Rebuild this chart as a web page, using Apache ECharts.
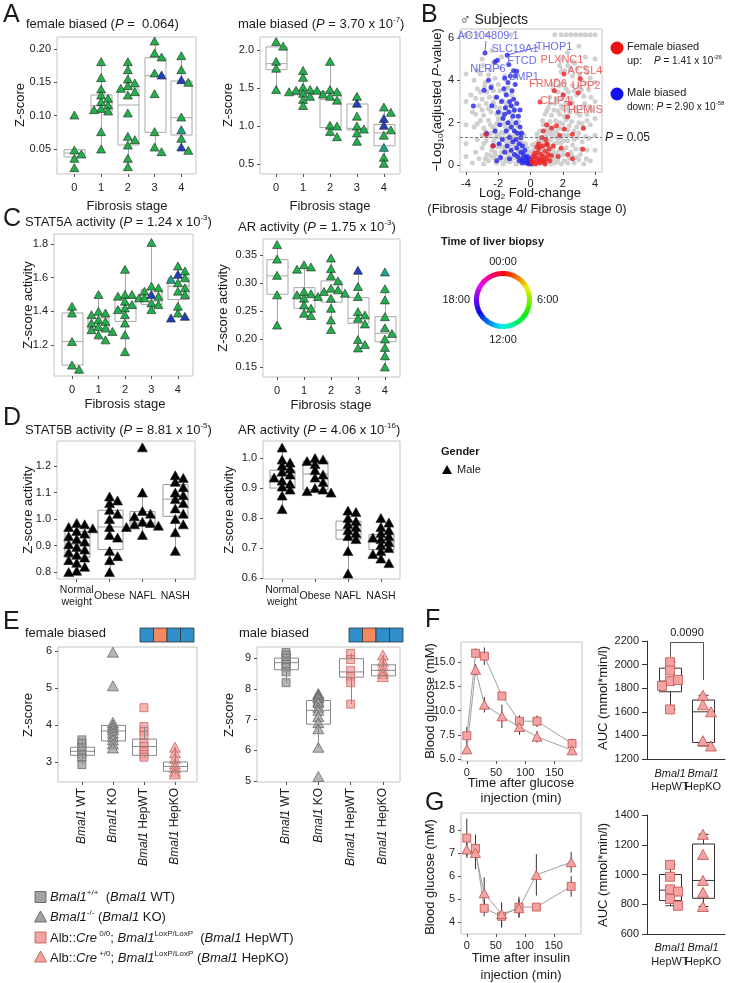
<!DOCTYPE html>
<html><head><meta charset="utf-8">
<script src="https://cdn.jsdelivr.net/npm/echarts@6/dist/echarts.min.js"></script>
<style>html,body{margin:0;padding:0;background:#fff}#c{width:729px;height:983px}</style>
</head><body><div id="c"></div>
<script>
// ================= DATA =================
// Panel A
const fibrosisStages = ['0','1','2','3','4'];
const aFemaleVals = [
 [0.101,0.0485,0.0425,0.036,0.022],
 [0.181,0.157,0.140,0.131,0.126,0.121,0.116,0.111,0.109,0.107,0.076,0.050],
 [0.181,0.169,0.155,0.149,0.145,0.141,0.136,0.131,0.104,0.069,0.064,0.056,0.036,0.0235],
 [0.212,0.194,0.188,0.164,0.161,0.133,0.076,0.053,0.046],
 [0.190,0.169,0.154,0.150,0.098,0.079,0.066,0.053,0.048]
];
const aFemaleBlue = [[3,0.161],[4,0.154],[4,0.053]];
const aFemaleTeal = [[4,0.079]];
const aFemaleBox = [[0.036,0.038,0.044,0.049,0.049],[0.050,0.105,0.115,0.131,0.181],[0.0235,0.056,0.116,0.140,0.181],[0.046,0.075,0.160,0.187,0.212],[0.048,0.071,0.097,0.152,0.190]];
const aMaleVals = [
 [2.11,2.05,1.85,1.76,1.48],
 [1.73,1.64,1.51,1.48,1.47,1.47,1.45,1.43,1.39,1.35,1.27],
 [1.85,1.48,1.45,1.42,1.39,1.34,1.01,1.00,0.93,0.86],
 [1.39,1.30,1.13,1.00,0.96,0.91,0.80],
 [1.25,1.18,1.10,1.01,0.95,0.88,0.72,0.59,0.51]
];
const aMaleBlue = [[3,1.30],[4,1.10],[4,1.01]];
const aMaleTeal = [[4,0.72]];
const aMaleBox = [[1.48,1.74,1.82,2.04,2.11],[1.27,1.41,1.44,1.47,1.73],[0.86,0.98,1.35,1.45,1.85],[0.80,0.95,0.97,1.29,1.39],[0.51,0.74,0.91,1.02,1.25]];

// Panel B volcano (log2 fold-change, -log10 adjusted P)
const volcanoGray = [
 [-3.6,0.1],[-3.2,0.3],[-2.9,0.05],[-2.6,0.2],[-2.3,0.35],[-2.1,0.1],[-1.9,0.25],[-1.7,0.05],[-1.5,0.3],[-1.3,0.15],[-1.1,0.38],[-0.9,0.05],[-0.7,0.2],[-0.5,0.32],[-0.3,0.1],[-0.1,0.25],[0.1,0.05],[0.3,0.3],[0.5,0.12],[0.7,0.35],[0.9,0.05],[1.1,0.22],[1.3,0.36],[1.5,0.1],[1.7,0.28],[1.9,0.05],[2.1,0.2],[2.4,0.33],[2.7,0.1],[3.0,0.25],[3.3,0.05],[3.7,0.2],
 [-3.4,0.6],[-3.0,0.8],[-2.7,0.5],[-2.4,0.7],[-2.2,0.45],[-2.0,0.85],[-1.8,0.6],[-1.6,0.75],[-1.4,0.5],[-1.2,0.65],[-1.0,0.85],[-0.8,0.55],[-0.6,0.7],[-0.4,0.45],[-0.2,0.8],[0.0,0.6],[0.2,0.5],[0.4,0.75],[0.6,0.55],[0.8,0.85],[1.0,0.62],[1.2,0.45],[1.4,0.8],[1.6,0.55],[1.8,0.7],[2.0,0.48],[2.2,0.82],[2.5,0.6],[2.8,0.75],[3.1,0.5],[3.5,0.7],
 [-3.3,1.2],[-2.9,1.0],[-2.6,1.35],[-2.3,1.1],[-2.1,1.45],[-1.9,0.95],[-1.7,1.25],[-1.5,1.05],[-1.3,1.4],[-1.1,1.15],[-0.9,0.95],[-0.7,1.3],[-0.5,1.05],[-0.3,1.0],[0.3,1.0],[0.5,1.2],[0.7,0.95],[0.9,1.35],[1.1,1.1],[1.3,1.45],[1.5,1.0],[1.7,1.25],[1.9,1.05],[2.1,1.4],[2.3,1.15],[2.6,0.95],[2.9,1.3],[3.2,1.1],[3.6,1.25],
 [-3.5,1.8],[-3.1,2.1],[-2.8,1.6],[-2.5,1.9],[-2.2,1.7],[-2.0,2.15],[-1.8,1.55],[-1.6,1.95],[-1.4,1.7],[-1.2,2.1],[-1.0,1.6],[-0.8,1.85],[-0.6,1.55],[0.6,1.6],[0.8,1.9],[1.0,1.65],[1.2,2.05],[1.4,1.75],[1.6,1.55],[1.8,2.0],[2.0,1.7],[2.2,2.15],[2.4,1.85],[2.7,1.6],[3.0,2.0],[3.3,1.75],[3.7,1.9],
 [-3.6,2.5],[-3.2,2.8],[-2.9,2.35],[-2.6,2.65],[-2.3,2.95],[-2.1,2.4],[-1.9,2.7],[-1.7,2.3],[-1.5,2.9],[-1.3,2.5],[-1.1,2.75],[-0.9,2.3],[0.9,2.4],[1.1,2.7],[1.3,2.35],[1.5,2.9],[1.7,2.55],[1.9,2.8],[2.1,2.3],[2.3,2.65],[2.6,2.95],[2.9,2.45],[3.2,2.75],[3.5,2.4],[3.8,2.6],
 [-3.7,3.3],[-3.3,3.6],[-3.0,3.1],[-2.7,3.45],[-2.4,3.75],[-2.2,3.2],[-1.9,3.5],[-1.7,3.05],[-1.4,3.65],[-1.2,3.3],[1.2,3.2],[1.4,3.55],[1.6,3.1],[1.8,3.75],[2.0,3.35],[2.2,3.6],[2.5,3.15],[2.7,3.5],[3.0,3.7],[3.3,3.25],[3.6,3.55],
 [-3.5,4.0],[-3.1,4.3],[-2.8,3.9],[-2.5,4.5],[-2.2,4.1],[-1.9,4.6],[-1.6,4.2],[1.6,4.0],[1.9,4.4],[2.1,3.9],[2.3,4.7],[2.6,4.2],[2.9,4.55],[3.2,4.0],[3.5,4.35],
 [-3.0,5.0],[-2.4,5.4],[-1.8,5.1],[1.9,5.0],[2.3,5.3],[2.6,4.9],[3.0,5.6],[3.4,5.1],
 [-4.0,6.15],[-3.7,6.15],[-3.3,6.15],[-2.7,6.15],[-1.2,6.15],[1.5,6.15],[1.9,6.15],[2.2,6.15],[2.5,6.15],[2.8,6.15],[3.1,6.15],[3.4,6.15],[3.7,6.15],[4.0,6.15],
 [-4,4.3],[-4,3.0],[-4,1.9],[-4,1.0],[-4,0.4],[4,5.0],[4,3.9],[4,3.0],[4,2.2],[4,1.4],[4,0.7],
 [-1.2,0.2],[-1.0,0.5],[-0.8,0.3],[-0.6,0.1],[-0.4,0.6],[-0.2,0.4],[0.0,0.15],[0.2,0.7],[0.4,0.25],[0.6,0.9],[0.8,0.4],[1.0,0.15],[1.2,0.75],[1.4,0.3],[-1.4,0.9],[-0.9,1.2],[-0.5,0.9],[0.1,0.95],[0.45,1.3],[1.15,1.6],[-1.15,1.75],[-0.7,1.0],[0.75,1.15],
 [-2.8,0.3],[-2.5,0.45],[-2.2,0.6],[-1.95,0.4],[-1.75,0.85],[-1.55,0.2],[-1.35,0.6],[-1.15,0.95],[-0.95,0.35],[-0.75,0.7],[-0.55,0.15],[-0.35,0.9],[-0.15,0.6],[0.05,0.4],[0.25,0.85],[0.45,0.05],[0.65,0.7],[0.85,0.25],[1.05,0.45],[1.25,0.05],[1.45,0.6],[1.65,0.15],[1.85,0.45],[2.05,0.7],[2.3,0.1],[2.55,0.45],[2.85,0.35],[3.15,0.75],[3.45,0.3],
 [-3.0,1.4],[-2.75,1.15],[-2.45,1.5],[-2.2,1.25],[-1.95,1.35],[-1.65,1.5],[-1.45,1.25],[-1.25,1.05],[-1.05,1.35],[-0.85,1.5],[-0.6,1.2],[-0.4,1.4],[0.4,1.45],[0.6,1.05],[0.85,1.25],[1.05,1.45],[1.25,1.2],[1.45,1.35],[1.65,1.05],[1.85,1.3],[2.05,1.15],[2.35,1.4],[2.7,1.2],[3.0,1.5],[3.4,1.35],
 [-3.3,1.95],[-2.9,1.75],[-2.6,2.1],[-2.35,1.8],[-2.1,1.95],[-1.85,2.2],[-1.55,1.8],[-1.3,2.0],[-1.05,1.9],[-0.75,2.05],[0.75,2.1],[1.05,1.85],[1.3,1.6],[1.55,2.1],[1.75,1.75],[2.0,1.95],[2.3,1.65],[2.55,2.05],[2.85,1.8],[3.2,1.95],[3.5,2.1],
 [-3.4,2.4],[-3.0,2.6],[-2.75,2.9],[-2.45,2.5],[-2.2,2.75],[-1.85,2.45],[-1.6,2.65],[-1.35,2.85],[-1.05,2.5],[1.0,2.55],[1.2,2.9],[1.45,2.6],[1.8,2.4],[2.0,2.65],[2.2,2.9],[2.45,2.5],[2.75,2.7],[3.05,2.35],[3.35,2.9],[3.65,2.75],
 [-3.4,3.15],[-3.1,3.45],[-2.85,3.7],[-2.55,3.2],[-2.3,3.5],[-2.0,3.8],[-1.55,3.4],[1.35,3.8],[1.7,3.45],[1.95,3.15],[2.35,3.45],[2.6,3.75],[2.85,3.3],[3.15,3.55],[3.45,3.85],[3.75,3.2],
 [-3.3,4.45],[-2.95,4.7],[-2.6,4.25],[-2.3,4.8],[1.8,4.7],[2.1,4.45],[2.45,4.5],[2.75,4.8],[3.05,4.3],[3.4,4.6],[3.7,4.1]
];
const volcanoBlue = [
 [-2.82,5.29],[-2.2,4.87],[-2.05,4.95],[-1.44,5.18],[-0.86,4.43],[-1.35,4.75],
 [-3.54,2.78],[-2.88,3.53],[-2.45,3.66],[-2.72,1.49],[-2.3,0.91],[-2.6,4.0],[-2.1,3.2],[-2.0,2.5],[-1.9,1.9],[-1.8,3.0],[-1.75,1.2],[-1.7,2.2],[-1.65,3.6],[-1.6,4.1],[-1.55,2.7],[-1.5,1.6],[-1.5,3.3],[-1.45,0.9],[-1.4,2.0],[-1.4,3.9],[-1.35,2.5],[-1.3,1.3],[-1.3,3.0],[-1.25,4.2],[-1.2,0.7],[-1.2,1.8],[-1.2,2.8],[-1.15,3.5],[-1.1,2.3],[-1.1,1.1],[-1.05,3.1],[-1.0,0.5],[-1.0,1.6],[-1.0,2.6],[-0.95,3.8],[-0.9,2.0],[-0.9,1.2],[-0.85,0.8],[-0.85,2.9],[-0.8,1.5],[-0.8,0.4],[-0.75,2.3],[-0.7,1.0],[-0.7,0.2],[-0.65,1.8],[-0.6,0.6],[-0.6,1.3],[-0.55,0.3],[-0.5,0.9],[-0.5,0.1],[-0.45,0.5],[-0.4,0.2],[-0.35,0.7],[-0.3,0.35],[-0.25,0.1],[-0.2,0.4],[-0.15,0.2],[-0.1,0.05],[-0.05,0.3],[0.0,0.15],[0.05,0.05],[-1.6,0.6],[-1.85,0.35],[-2.1,0.2],[-0.95,4.2],[-1.05,4.45],[-0.65,2.6],[-0.55,1.5],[-1.3,0.3],[-1.6,2.4],[-2.4,2.8],[-2.2,1.6],[-1.95,1.0]
];
const volcanoRed = [
 [2.07,4.29],[3.07,4.08],[2.96,3.41],[1.48,3.5],[0.59,2.98],[2.3,2.28],[2.03,3.3],[2.45,2.9],[3.27,1.73],[3.24,0.74],
 [1.0,1.9],[1.3,1.75],[1.6,1.85],[0.8,1.6],[1.8,1.4],[2.1,1.7],[2.6,1.45],[1.0,1.0],[1.4,0.9],[1.9,0.8],[2.3,0.5],[2.6,0.3],[1.7,0.4],[-2.76,1.44],[-2.35,0.9],
 [0.1,0.1],[0.2,0.25],[0.3,0.05],[0.35,0.4],[0.4,0.15],[0.45,0.6],[0.5,0.3],[0.55,0.8],[0.6,0.1],[0.65,0.5],[0.7,0.25],[0.75,0.9],[0.8,0.4],[0.85,0.15],[0.9,0.65],[0.95,1.2],[1.0,0.3],[1.1,0.5],[1.15,0.75],[1.2,0.2],[0.25,0.55],[0.15,0.4],[0.05,0.2],[0.5,1.0],[0.7,1.3],[0.4,0.85],[1.3,0.45],[0.6,0.2],[0.9,0.05],[1.05,0.95]
];
const volcanoThresholdP = 0.05;

// Panel C
const cStat5aVals = [
 [1.43,1.39,1.22,1.08,1.055],
 [1.50,1.40,1.39,1.38,1.35,1.34,1.33,1.31,1.30,1.29,1.28,1.26,1.23],
 [1.65,1.50,1.50,1.49,1.48,1.46,1.44,1.42,1.41,1.38,1.33,1.26,1.16],
 [1.81,1.55,1.54,1.52,1.50,1.49,1.48,1.45,1.44,1.41],
 [1.67,1.64,1.62,1.60,1.59,1.57,1.54,1.52,1.50,1.43,1.39,1.37,1.36]
];
const cStat5aBlue = [[3,1.50],[4,1.62],[4,1.37],[4,1.36]];
const cStat5aTeal = [[4,1.59]];
const cStat5aBox = [[1.055,1.08,1.22,1.39,1.43],[1.23,1.29,1.30,1.36,1.50],[1.16,1.34,1.42,1.48,1.65],[1.41,1.44,1.46,1.53,1.81],[1.36,1.47,1.55,1.60,1.67]];
const cArVals = [
 [0.369,0.343,0.314,0.279,0.225],
 [0.333,0.329,0.325,0.285,0.281,0.279,0.276,0.273,0.261,0.255,0.246,0.242],
 [0.345,0.326,0.313,0.304,0.291,0.288,0.285,0.282,0.273,0.255,0.234,0.217],
 [0.323,0.294,0.276,0.249,0.243,0.237,0.227,0.199,0.190,0.184],
 [0.32,0.29,0.27,0.24,0.22,0.21,0.20,0.185,0.17,0.15]
];
const cArBlue = [[3,0.323]];
const cArTeal = [[4,0.32]];
const cArBox = [[0.225,0.28,0.313,0.342,0.369],[0.242,0.255,0.275,0.292,0.333],[0.217,0.266,0.285,0.304,0.345],[0.184,0.228,0.237,0.274,0.323],[0.15,0.195,0.21,0.24,0.29]];

// Panel D
const dGroups = ['Normal\nweight','Obese','NAFL','NASH'];
const dStat5bVals = [
 [0.985,0.98,0.97,0.965,0.955,0.945,0.935,0.925,0.915,0.905,0.895,0.885,0.875,0.865,0.855,0.845,0.835,0.82,0.805,0.80],
 [1.085,1.07,1.06,1.035,1.02,1.0,0.97,0.94,0.93,0.88,0.86,0.845,0.80],
 [1.27,1.10,1.03,1.02,1.01,0.99,0.985,0.98,0.975,0.97,0.94],
 [1.165,1.155,1.14,1.12,1.10,1.09,1.075,1.06,1.04,1.02,1.00,0.98,0.95,0.88]
];
const dStat5bBox = [[0.80,0.856,0.905,0.953,0.985],[0.80,0.885,0.97,1.033,1.085],[0.94,0.975,0.985,1.028,1.10],[0.88,1.01,1.075,1.13,1.165]];
const dArVals = [
 [1.035,0.995,0.985,0.975,0.965,0.955,0.945,0.935,0.925,0.915,0.905,0.895,0.875,0.83],
 [1.0,0.995,0.99,0.98,0.96,0.945,0.935,0.92,0.90,0.895,0.89,0.885],
 [0.825,0.82,0.80,0.79,0.78,0.77,0.76,0.75,0.74,0.73,0.69,0.615],
 [0.80,0.785,0.77,0.76,0.75,0.74,0.735,0.73,0.72,0.71,0.70,0.69,0.68,0.665,0.65]
];
const dArBox = [[0.83,0.90,0.94,0.96,1.035],[0.885,0.895,0.947,0.99,1.0],[0.615,0.73,0.76,0.79,0.825],[0.65,0.695,0.72,0.745,0.80]];

// Panel E
const eGroups = ['WT','KO','HepWT','HepKO'];
const eFemaleVals = [
 [3.60,3.51,3.38,3.29,3.20,3.11,2.93],
 [5.97,5.06,4.07,4.00,3.93,3.87,3.78,3.69,3.60,3.49,3.38],
 [4.47,3.96,3.83,3.72,3.51,3.42,3.29,3.20,3.13],
 [3.40,3.25,3.10,2.95,2.85,2.75,2.68]
];
const eFemaleBox = [[2.93,3.18,3.29,3.40,3.60],[3.35,3.57,3.84,3.99,4.07],[3.13,3.18,3.42,3.62,3.96],[2.68,2.75,2.88,3.00,3.40]];
const eMaleVals = [
 [9.18,9.10,9.00,8.90,8.80,8.70,8.55,8.20],
 [7.85,7.80,7.75,7.70,7.60,7.55,7.40,7.30,7.10,6.90,6.70,6.10,5.15],
 [9.15,8.95,8.60,8.40,8.20,7.50],
 [9.10,8.90,8.75,8.60,8.50,8.40]
];
const eMaleBox = [[8.20,8.62,8.85,9.00,9.18],[6.10,6.85,7.30,7.62,7.85],[7.50,8.38,8.55,8.98,9.15],[8.40,8.42,8.60,8.78,9.10]];

// Panels F, G
const timesMin = [0,15,30,60,90,120,180];
const gttHepWT = [7.4,15.9,15.6,11.5,8.9,8.9,6.6];
const gttHepWTErr = [0.9,0.5,0.9,0.2,0.6,0.6,0.5];
const gttHepKO = [6.0,14.2,10.6,9.4,8.3,7.3,5.9];
const gttHepKOErr = [0.5,0.6,0.8,1.2,0.8,0.6,0.4];
const gttAucWT = [2020,1950,1860,1870,1820,1620];
const gttAucKO = [1740,1660,1600,1355,1310];
const gttAucBox = [[1620,1770,1860,1970,2020],[1310,1340,1600,1700,1740]];
const gttPValue = '0.0090';
const ittHepWT = [7.65,7.2,4.6,4.25,4.65,4.65,5.55];
const ittHepWTErr = [0.85,0.6,0.35,0.5,0.45,0.15,0.45];
const ittHepKO = [7.15,7.0,5.25,4.35,4.6,6.05,6.6];
const ittHepKOErr = [0.3,0.7,0.7,0.5,0.4,0.9,0.45];
const ittAucWT = [1065,985,900,885,835,790];
const ittAucKO = [1270,1135,960,880,785];
const ittAucBox = [[790,825,895,1000,1065],[785,840,960,1205,1270]];
const aucGroups = ['HepWT','HepKO'];

// ================= RENDERING =================
const FF = "'Liberation Sans', Arial, sans-serif";
const GREEN = '#21b04b', TEAL = '#17a58c', BLUE = '#1f3fbf';
const PINK = '#f4a3a3', PINKB = '#c0504d', GRAY = '#a3a3a3', GRAYB = '#555';
const grids = [], xAxes = [], yAxes = [], series = [], graphics = [];
const GR = {};

function merge(a, b) {
  const o = Object.assign({}, a);
  for (const k in (b || {})) {
    if (b[k] && typeof b[k] === 'object' && !Array.isArray(b[k]) && typeof a[k] === 'object') o[k] = Object.assign({}, a[k], b[k]);
    else o[k] = b[k];
  }
  return o;
}
function ticks(vals, fmt) {
  return { axisTick: { customValues: vals }, axisLabel: { customValues: vals, formatter: fmt } };
}
function addGrid(name, g, xr, yr, xo, yo) {
  const i = grids.length;
  GR[name] = { i, g, xr, yr, ppx: g.width / (xr[1] - xr[0]), ppy: g.height / (yr[1] - yr[0]) };
  grids.push({ left: g.left, top: g.top, width: g.width, height: g.height, show: g.frame !== false, borderColor: '#c4c4c4', borderWidth: 1, backgroundColor: 'rgba(0,0,0,0)' });
  const base = {
    gridIndex: i, type: 'value', splitLine: { show: false },
    axisLine: { show: g.frame === false, onZero: false, lineStyle: { color: '#333', width: 1 } },
    axisTick: { show: true, length: 3, lineStyle: { color: '#555' } },
    axisLabel: { fontSize: 11, color: '#222', fontFamily: FF, margin: 6, hideOverlap: false, showMinLabel: true, showMaxLabel: true }
  };
  xAxes.push(merge(merge(base, { min: xr[0], max: xr[1] }), xo));
  yAxes.push(merge(merge(base, { min: yr[0], max: yr[1] }), yo));
  return i;
}
function xPix(name, v) { const G0 = GR[name]; return G0.g.left + (v - G0.xr[0]) * G0.ppx; }
function strip(name, vals, special, o) {
  const g = GR[name];
  const slot = (o.slotPx || 7) / g.ppx, thr = (o.thrPx || 6) / g.ppy;
  const data = [];
  vals.forEach((arr, ci) => {
    const placed = [];
    arr.forEach(v => {
      const near = placed.filter(p => Math.abs(p.v - v) < thr).map(p => p.k);
      const seq = o.noJitter ? [0] : [0, 1, -1, 2, -2, 3, -3];
      let k = seq.find(s => !near.includes(s)); if (k === undefined) k = 0;
      placed.push({ v, k });
      const item = { value: [ci + k * slot, v] };
      (special || []).forEach(sp => { if (sp.pts.some(p => p[0] === ci && Math.abs(p[1] - v) < 1e-9)) item.itemStyle = { color: sp.color }; });
      data.push(item);
    });
  });
  series.push({ type: 'scatter', xAxisIndex: g.i, yAxisIndex: g.i, data, symbol: o.symbol || 'triangle', symbolSize: o.size || [9, 8], z: 3, silent: true,
    itemStyle: { color: o.color, borderColor: o.border || '#222', borderWidth: o.bw == null ? 0.6 : o.bw, opacity: 1 } });
}
function box(name, stats, o) {
  const g = GR[name];
  series.push({ type: 'custom', xAxisIndex: g.i, yAxisIndex: g.i, silent: true, z: o.z || 2,
    data: stats.map((s, i) => [i].concat(s)),
    renderItem: (params, api) => {
      const x = api.value(0);
      const P = [1, 2, 3, 4, 5].map(d => api.coord([x, api.value(d)]));
      const cx = Math.round(P[0][0]) + 0.5, w = o.w, hw = w / 2, c = o.color, lw = o.lw || 1;
      const st = { stroke: c, lineWidth: lw, fill: null };
      const ch = [
        { type: 'line', shape: { x1: cx, y1: P[4][1], x2: cx, y2: P[3][1] }, style: st },
        { type: 'line', shape: { x1: cx, y1: P[1][1], x2: cx, y2: P[0][1] }, style: st },
        { type: 'rect', shape: { x: cx - hw, y: P[3][1], width: w, height: P[1][1] - P[3][1] }, style: { stroke: c, lineWidth: lw, fill: 'rgba(0,0,0,0)' } },
        { type: 'line', shape: { x1: cx - hw, y1: P[2][1], x2: cx + hw, y2: P[2][1] }, style: st }
      ];
      if (o.cap) {
        const cw = o.cap / 2;
        ch.push({ type: 'line', shape: { x1: cx - cw, y1: P[0][1], x2: cx + cw, y2: P[0][1] }, style: st });
        ch.push({ type: 'line', shape: { x1: cx - cw, y1: P[4][1], x2: cx + cw, y2: P[4][1] }, style: st });
      }
      return { type: 'group', children: ch };
    } });
}
function errbars(name, xs, m, e) {
  const g = GR[name];
  series.push({ type: 'custom', xAxisIndex: g.i, yAxisIndex: g.i, silent: true, z: 2,
    data: xs.map((x, i) => [x, m[i] - e[i], m[i] + e[i]]),
    renderItem: (p, api) => {
      const a = api.coord([api.value(0), api.value(1)]), b = api.coord([api.value(0), api.value(2)]);
      return { type: 'line', shape: { x1: a[0], y1: a[1], x2: b[0], y2: b[1] }, style: { stroke: '#333', lineWidth: 1 } };
    } });
}
function curve(name, xs, m, sym, size) {
  const g = GR[name];
  series.push({ type: 'line', xAxisIndex: g.i, yAxisIndex: g.i, silent: true, z: 3, data: xs.map((x, i) => [x, m[i]]),
    symbol: sym, symbolSize: size, showSymbol: true, lineStyle: { color: '#a0a0a0', width: 1 },
    itemStyle: { color: PINK, borderColor: PINKB, borderWidth: 0.8 } });
}
function rich(fs) {
  return {
    i: { fontStyle: 'italic', fontSize: fs, fontFamily: FF },
    b: { fontWeight: 'bold', fontSize: fs, fontFamily: FF },
    sup: { fontSize: Math.round(fs * 0.62), fontFamily: FF, verticalAlign: 'top' },
    sub: { fontSize: Math.round(fs * 0.62), fontFamily: FF, verticalAlign: 'bottom' }
  };
}
function T(x, y, text, o) {
  o = o || {};
  const fs = o.fs || 13;
  graphics.push({ type: 'text', x, y, rotation: o.rot || 0, silent: true, z: 100,
    style: { text, fill: o.color || '#1a1a1a', fontSize: fs, fontFamily: FF, fontWeight: o.bold ? 'bold' : 'normal',
      align: o.align || 'left', textAlign: o.align || 'left', verticalAlign: 'middle', textVerticalAlign: 'middle',
      lineHeight: o.lh || Math.round(fs * 1.25), rich: rich(fs) } });
}
const fmt = d => v => v.toFixed(d);

// ---- Panel A ----
addGrid('A1', { left: 57, top: 37, width: 139, height: 137 }, [-0.65, 4.55], [0.0125, 0.218],
  merge(ticks([0, 1, 2, 3, 4], v => fibrosisStages[v]), { axisLabel: { margin: 8 } }), ticks([0.05, 0.10, 0.15, 0.20], fmt(2)));
addGrid('A2', { left: 260, top: 37, width: 140, height: 137 }, [-0.6, 4.6], [0.37, 2.17],
  merge(ticks([0, 1, 2, 3, 4], v => fibrosisStages[v]), { axisLabel: { margin: 8 } }), ticks([0.5, 1.0, 1.5, 2.0], fmt(1)));
box('A1', aFemaleBox, { w: 21, color: '#a8a8a8' });
box('A2', aMaleBox, { w: 21, color: '#a8a8a8' });
strip('A1', aFemaleVals, [{ pts: aFemaleBlue, color: BLUE }, { pts: aFemaleTeal, color: TEAL }], { color: GREEN });
strip('A2', aMaleVals, [{ pts: aMaleBlue, color: BLUE }, { pts: aMaleTeal, color: TEAL }], { color: GREEN });

// ---- Panel B ----
addGrid('B', { left: 460, top: 29, width: 142, height: 143 }, [-4.37, 4.43], [-0.33, 6.42],
  ticks([-4, -2, 0, 2, 4], v => String(v)), ticks([0, 2, 4, 6], v => String(v)));
const gB = GR.B.i;
series.push({ type: 'scatter', xAxisIndex: gB, yAxisIndex: gB, silent: true, z: 2, data: volcanoGray, symbolSize: 5,
  itemStyle: { color: '#cdcdcd', opacity: 0.95 },
  markLine: { silent: true, symbol: 'none', label: { show: false }, lineStyle: { color: '#777', type: [3, 2], width: 1 },
    data: [{ yAxis: -Math.log10(volcanoThresholdP) }] } });
series.push({ type: 'scatter', xAxisIndex: gB, yAxisIndex: gB, silent: true, z: 3, data: volcanoBlue, symbolSize: 5, itemStyle: { color: '#2323ee' } });
series.push({ type: 'scatter', xAxisIndex: gB, yAxisIndex: gB, silent: true, z: 3, data: volcanoRed, symbolSize: 5, itemStyle: { color: '#ee2222' } });

// ---- Panel C ----
addGrid('C1', { left: 54, top: 234, width: 139, height: 142 }, [-0.68, 4.57], [1.015, 1.86],
  merge(ticks([0, 1, 2, 3, 4], v => fibrosisStages[v]), { axisLabel: { margin: 8 } }), ticks([1.2, 1.4, 1.6, 1.8], fmt(1)));
addGrid('C2', { left: 263, top: 239, width: 137, height: 138 }, [-0.52, 4.56], [0.132, 0.379],
  merge(ticks([0, 1, 2, 3, 4], v => fibrosisStages[v]), { axisLabel: { margin: 8 } }), ticks([0.15, 0.20, 0.25, 0.30, 0.35], fmt(2)));
box('C1', cStat5aBox, { w: 21, color: '#a8a8a8' });
box('C2', cArBox, { w: 21, color: '#a8a8a8' });
strip('C1', cStat5aVals, [{ pts: cStat5aBlue, color: BLUE }, { pts: cStat5aTeal, color: TEAL }], { color: GREEN });
strip('C2', cArVals, [{ pts: cArBlue, color: BLUE }, { pts: cArTeal, color: TEAL }], { color: GREEN });

// ---- Panel D ----
const dX = { axisTick: { customValues: [0, 1, 2, 3] }, axisLabel: { show: false } };
addGrid('D1', { left: 57, top: 441, width: 138, height: 138 }, [-0.6, 3.6], [0.774, 1.294], dX, ticks([0.8, 0.9, 1.0, 1.1, 1.2], fmt(1)));
addGrid('D2', { left: 263, top: 441, width: 137, height: 138 }, [-0.58, 3.58], [0.597, 1.057], dX, ticks([0.6, 0.7, 0.8, 0.9, 1.0], fmt(1)));
box('D1', dStat5bBox, { w: 25, color: '#999' });
box('D2', dArBox, { w: 25, color: '#999' });
strip('D1', dStat5bVals, null, { color: '#000', size: [10, 9], slotPx: 8, thrPx: 6 });
strip('D2', dArVals, null, { color: '#000', size: [10, 9], slotPx: 8, thrPx: 6 });
['D1', 'D2'].forEach(n => dGroups.forEach((lab, i) => T(xPix(n, i), 596, lab, { fs: 10.5, align: 'center', lh: 12 })));

// ---- Panel E ----
const eX = { axisTick: { customValues: [0, 1, 2, 3] }, axisLabel: { customValues: [0, 1, 2, 3], rotate: 90, fontSize: 12, margin: 6,
  formatter: v => '{i|Bmal1} ' + eGroups[v], rich: { i: { fontStyle: 'italic', fontSize: 12, fontFamily: FF, color: '#222' } } } };
addGrid('E1', { left: 58, top: 647, width: 139, height: 135 }, [-0.77, 3.71], [2.46, 6.11], eX, ticks([3, 4, 5, 6], v => String(v)));
addGrid('E2', { left: 257, top: 647, width: 143, height: 135 }, [-0.9, 3.53], [4.97, 9.36], eX, ticks([5, 6, 7, 8, 9], v => String(v)));
function eStrips(name, vals) {
  const g = GR[name];
  const sty = [
    { symbol: 'rect', size: 8, color: GRAY, border: GRAYB },
    { symbol: 'triangle', size: [11, 10], color: GRAY, border: GRAYB },
    { symbol: 'rect', size: 8, color: PINK, border: PINKB },
    { symbol: 'triangle', size: [11, 10], color: PINK, border: PINKB }
  ];
  vals.forEach((arr, ci) => {
    const s = sty[ci];
    series.push({ type: 'scatter', xAxisIndex: g.i, yAxisIndex: g.i, silent: true, z: 3, symbol: s.symbol, symbolSize: s.size,
      data: arr.map(v => [ci, v]), itemStyle: { color: s.color, borderColor: s.border, borderWidth: 0.8 } });
  });
}
eStrips('E1', eFemaleVals);
eStrips('E2', eMaleVals);
box('E1', eFemaleBox, { w: 24, color: '#888', z: 4 });
box('E2', eMaleBox, { w: 24, color: '#888', z: 4 });

// ---- Panel F ----
addGrid('F1', { left: 461, top: 642, width: 121, height: 119 }, [-10, 197], [4.8, 17.06],
  ticks([0, 50, 100, 150], v => String(v)), ticks([5, 7.5, 10, 12.5, 15], fmt(1)));
errbars('F1', timesMin, gttHepWT, gttHepWTErr);
errbars('F1', timesMin, gttHepKO, gttHepKOErr);
curve('F1', timesMin, gttHepWT, 'rect', 8);
curve('F1', timesMin, gttHepKO, 'triangle', [10, 9]);
const aucX = { axisTick: { show: false }, axisLabel: { show: false } };
addGrid('F2', { left: 647, top: 641, width: 78, height: 118, frame: false }, [-0.7, 1.67], [1200, 2200], aucX,
  { axisTick: { length: 5, lineStyle: { color: '#333' } }, axisLabel: { margin: 8, formatter: v => String(v) }, interval: 200 });
box('F2', gttAucBox, { w: 22, color: '#333', cap: 10 });
strip('F2', [gttAucWT, []], null, { symbol: 'rect', size: 9, color: PINK, border: PINKB, bw: 0.8, slotPx: 8, thrPx: 8 });
strip('F2', [[], gttAucKO], null, { symbol: 'triangle', size: [11, 10], color: PINK, border: PINKB, bw: 0.8, slotPx: 8, thrPx: 8 });

// ---- Panel G ----
addGrid('G1', { left: 461, top: 813, width: 120, height: 121 }, [-10, 197], [3.48, 8.74],
  ticks([0, 50, 100, 150], v => String(v)), ticks([4, 5, 6, 7, 8], v => String(v)));
errbars('G1', timesMin, ittHepWT, ittHepWTErr);
errbars('G1', timesMin, ittHepKO, ittHepKOErr);
curve('G1', timesMin, ittHepWT, 'rect', 8);
curve('G1', timesMin, ittHepKO, 'triangle', [10, 9]);
addGrid('G2', { left: 647, top: 815, width: 78, height: 119, frame: false }, [-0.7, 1.67], [600, 1400], aucX,
  { axisTick: { length: 5, lineStyle: { color: '#333' } }, axisLabel: { margin: 8, formatter: v => String(v) }, interval: 200 });
box('G2', ittAucBox, { w: 22, color: '#333', cap: 10 });
strip('G2', [ittAucWT, []], null, { symbol: 'rect', size: 9, color: PINK, border: PINKB, bw: 0.8, slotPx: 8, thrPx: 8 });
strip('G2', [[], ittAucKO], null, { symbol: 'triangle', size: [11, 10], color: PINK, border: PINKB, bw: 0.8, slotPx: 8, thrPx: 8 });

// ================= TEXT / ANNOTATIONS =================
[['A', 3, 15], ['B', 421, 15], ['C', 3, 219], ['D', 3, 418], ['E', 3, 622], ['F', 425, 620], ['G', 425, 803]]
  .forEach(l => T(l[1], l[2], l[0], { fs: 25 }));
T(26, 24, 'female biased ({i|P} =  0.064)');
T(238, 24, 'male biased ({i|P} = 3.70 x 10{sup|-7})');
T(20, 105, 'Z-score', { rot: Math.PI / 2, align: 'center' });
T(228, 105, 'Z-score', { rot: Math.PI / 2, align: 'center' });
T(127, 206, 'Fibrosis stage', { align: 'center' });
T(330, 206, 'Fibrosis stage', { align: 'center' });

T(460, 20, '♂ Subjects', { fs: 14 });
T(437, 100, '\u2212Log{sub|10}(adjusted {i|P}-value)', { rot: Math.PI / 2, align: 'center' });
T(530, 193, 'Log{sub|2} Fold-change', { align: 'center' });
T(527, 209, '(Fibrosis stage 4/ Fibrosis stage 0)', { align: 'center' });
T(605, 138, '{i|P} = 0.05', { fs: 12 });
graphics.push({ type: 'circle', shape: { cx: 617, cy: 48, r: 6.5 }, style: { fill: '#ee1111' }, silent: true });
graphics.push({ type: 'circle', shape: { cx: 617, cy: 94, r: 6.5 }, style: { fill: '#1111ee' }, silent: true });
T(627, 47, 'Female biased', { fs: 11 });
T(627, 61, 'up:', { fs: 11 });
T(654, 61, '{i|P} = 1.41 x 10{sup|-26}', { fs: 10 });
T(627, 93, 'Male biased', { fs: 11 });
T(627, 107, 'down: {i|P} = 2.90 x 10{sup|-58}', { fs: 10 });
const VB = '#6a6af2', VR = '#f06464';
[['AC104809.1', 488, 36], ['SLC19A1', 515, 49], ['THOP1', 554, 47], ['FTCD', 522, 61], ['NLRP6', 488, 69], ['BMP1', 524, 77]]
  .forEach(l => T(l[1], l[2], l[0], { fs: 11, align: 'center', color: VB }));
[['PLXNC1', 562, 60], ['ACSL4', 585, 71], ['FRMD6', 548, 84], ['UPP2', 586, 86], ['CLIP4', 555, 101], ['THEMIS', 582, 110]]
  .forEach(l => T(l[1], l[2], l[0], { fs: 11, align: 'center', color: VR }));
graphics.push({ type: 'line', shape: { x1: 486, y1: 41, x2: 485, y2: 52 }, style: { stroke: VB, lineWidth: 1 }, silent: true });
graphics.push({ type: 'line', shape: { x1: 538, y1: 47, x2: 507, y2: 55 }, style: { stroke: VB, lineWidth: 1 }, silent: true });
graphics.push({ type: 'line', shape: { x1: 560, y1: 66, x2: 564, y2: 73 }, style: { stroke: VR, lineWidth: 1 }, silent: true });

T(25, 222, 'STAT5A activity ({i|P} = 1.24 x 10{sup|-3})');
T(238, 227, 'AR activity ({i|P} = 1.75 x 10{sup|-3})');
T(28, 305, 'Z-score activity', { rot: Math.PI / 2, align: 'center' });
T(223, 308, 'Z-score activity', { rot: Math.PI / 2, align: 'center' });
T(125, 404, 'Fibrosis stage', { align: 'center' });
T(331, 405, 'Fibrosis stage', { align: 'center' });

// time ring legend
T(441, 242, 'Time of liver biopsy', { fs: 11, bold: true });
const RCX = 503, RCY = 300;
for (let k = 0; k < 72; k++) {
  const a0 = -Math.PI / 2 + k * Math.PI * 2 / 72;
  graphics.push({ type: 'sector', silent: true, shape: { cx: RCX, cy: RCY, r: 29, r0: 24, startAngle: a0, endAngle: a0 + Math.PI * 2 / 72 + 0.02 },
    style: { fill: 'hsl(' + (k * 5) + ',95%,48%)' } });
}
T(RCX, 262, '00:00', { fs: 11, align: 'center' });
T(537, RCY, '6:00', { fs: 11 });
T(RCX, 340, '12:00', { fs: 11, align: 'center' });
T(470, RCY, '18:00', { fs: 11, align: 'right' });
T(441, 452, 'Gender', { fs: 11, bold: true });
graphics.push({ type: 'polygon', silent: true, shape: { points: [[447, 465], [452, 474], [442, 474]] }, style: { fill: '#000' } });
T(457, 470, 'Male', { fs: 11 });

T(25, 430, 'STAT5B activity ({i|P} = 8.81 x 10{sup|-5})');
T(238, 430, 'AR activity ({i|P} = 4.06 x 10{sup|-16})');
T(28, 510, 'Z-score activity', { rot: Math.PI / 2, align: 'center' });
T(229, 510, 'Z-score activity', { rot: Math.PI / 2, align: 'center' });

T(25, 633, 'female biased');
T(239, 633, 'male biased');
T(28, 715, 'Z-score', { rot: Math.PI / 2, align: 'center' });
T(229, 715, 'Z-score', { rot: Math.PI / 2, align: 'center' });
const eBar = ['#2f8fcb', '#f4895f', '#2f8fcb', '#2f8fcb'];
[140, 349].forEach(x0 => eBar.forEach((c, k) => graphics.push({ type: 'rect', silent: true,
  shape: { x: x0 + k * 13.5, y: 628, width: 13.5, height: 14 }, style: { fill: c, stroke: '#333', lineWidth: 0.8 } })));

// bottom legend
graphics.push({ type: 'rect', silent: true, shape: { x: 35, y: 891.5, width: 11, height: 11 }, style: { fill: GRAY, stroke: GRAYB, lineWidth: 0.8 } });
graphics.push({ type: 'polygon', silent: true, shape: { points: [[40.5, 911], [46.5, 922], [34.5, 922]] }, style: { fill: GRAY, stroke: GRAYB, lineWidth: 0.8 } });
graphics.push({ type: 'rect', silent: true, shape: { x: 35, y: 932, width: 11, height: 11 }, style: { fill: PINK, stroke: PINKB, lineWidth: 0.8 } });
graphics.push({ type: 'polygon', silent: true, shape: { points: [[40.5, 951], [46.5, 962], [34.5, 962]] }, style: { fill: PINK, stroke: PINKB, lineWidth: 0.8 } });
T(50, 897, '{i|Bmal1}{sup|+/+}  ({i|Bmal1} WT)');
T(50, 917, '{i|Bmal1}{sup|-/-} ({i|Bmal1} KO)');
T(50, 938, 'Alb::{i|Cre}{sup| 0/0}; {i|Bmal1}{sup|LoxP/LoxP}  ({i|Bmal1} HepWT)');
T(50, 958, 'Alb::{i|Cre}{sup| +/0}; {i|Bmal1}{sup|LoxP/LoxP} ({i|Bmal1} HepKO)');

// F & G labels
T(430, 701, 'Blood glucose (mM)', { rot: Math.PI / 2, align: 'center' });
T(521, 783, 'Time after glucose', { align: 'center' });
T(521, 798, 'injection (min)', { align: 'center' });
T(603, 698, 'AUC (mmol*min/l)', { rot: Math.PI / 2, align: 'center' });
[[670, aucGroups[0]], [703, aucGroups[1]]].forEach(l => { T(l[0], 774, '{i|Bmal1}', { fs: 11, align: 'center' }); T(l[0], 787, l[1], { fs: 11, align: 'center' }); });
graphics.push({ type: 'polyline', silent: true, shape: { points: [[670.5, 657], [670.5, 642.5], [703.5, 642.5], [703.5, 680]] }, style: { stroke: '#555', lineWidth: 1, fill: null } });
T(687, 633, gttPValue, { fs: 11, align: 'center' });

T(430, 877, 'Blood glucose (mM)', { rot: Math.PI / 2, align: 'center' });
T(521, 958, 'Time after insulin', { align: 'center' });
T(521, 975, 'injection (min)', { align: 'center' });
T(603, 875, 'AUC (mmol*min/l)', { rot: Math.PI / 2, align: 'center' });
[[670, aucGroups[0]], [703, aucGroups[1]]].forEach(l => { T(l[0], 948, '{i|Bmal1}', { fs: 11, align: 'center' }); T(l[0], 962, l[1], { fs: 11, align: 'center' }); });

const chart = echarts.init(document.getElementById('c'), null, { renderer: 'canvas' });
chart.setOption({ animation: false, backgroundColor: '#fff', textStyle: { fontFamily: FF },
  grid: grids, xAxis: xAxes, yAxis: yAxes, series, graphic: graphics });
</script></body></html>
